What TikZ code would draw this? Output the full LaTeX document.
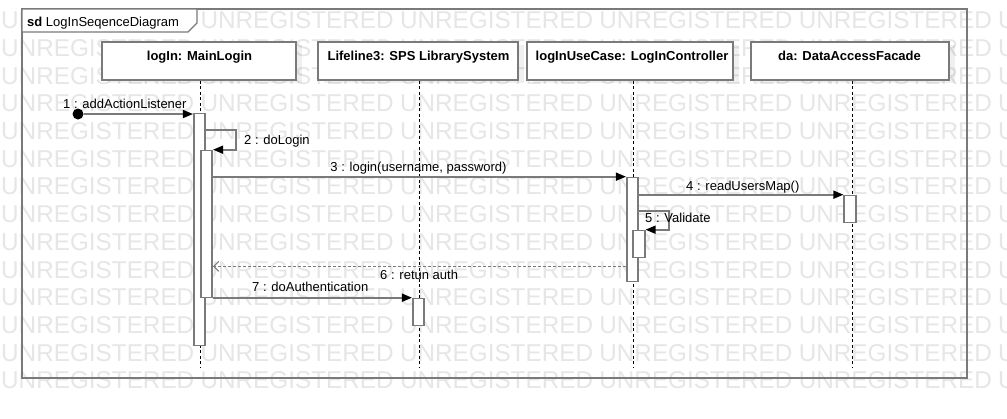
\documentclass[tikz,border=0pt]{standalone}
\usepackage{fontspec}
\setmainfont{Liberation Sans}
\usetikzlibrary{arrows.meta,calc}
\definecolor{lg}{HTML}{7A7A7A}
\definecolor{wmc}{HTML}{E6E6E6}
\begin{document}
\begin{tikzpicture}[x=1pt,y=-1pt,
  font=\fontsize{13}{15}\selectfont,
  wm/.style={anchor=base west, inner sep=0, text=wmc, font=\fontsize{24.3}{26}\selectfont},
  lbox/.style={draw=lg, line width=1.6pt, fill=white, inner sep=0, minimum height=38pt},
  shad/.style={fill=black, fill opacity=0.06, draw=none, inner sep=0, minimum height=38pt},
  ttl/.style={anchor=base, inner sep=0, font=\fontsize{13}{15}\selectfont\bfseries},
  life/.style={draw=black, line width=0.9pt, dash pattern=on 3pt off 2.5pt},
  bar/.style={draw=lg, line width=1.6pt, fill=white, inner sep=0, minimum width=11.5pt},
  msg/.style={draw=lg, line width=1.6pt, -{Triangle[length=10pt,width=8pt,fill=black,color=black]}},
  ret/.style={draw=lg, line width=1pt, dash pattern=on 3pt off 2pt, -{Straight Barb[length=5pt,width=10pt]}},
  lab/.style={anchor=base west, inner sep=0},
]
\useasboundingbox (0,0) rectangle (1007,418);
\fill[white] (0,0) rectangle (1007,418);
% watermark
\foreach \k in {0,...,13}{
  \foreach \j in {0,...,5}{
    \node[wm] (wm\k-\j) at ({1+199.4*\j},{28.7+27.7*\k}) {UNREGISTERED};
  }
}
% frame
\draw[lg, line width=1.6pt] (22,9) rectangle (967,378);
\draw[lg, line width=1.2pt, fill=white] (22,9) -- (197,9) -- (197,23) -- (188,32) -- (22,32) -- cycle;
\node[lab] (title) at (27,26) {\textbf{sd} LogInSeqenceDiagram};
% shadows
\node[shad, minimum width=194pt] (mlsh) at (205,64) {};
\node[shad, minimum width=200pt] (lssh) at (424,64) {};
\node[shad, minimum width=206pt] (lcsh) at (636,64) {};
\node[shad, minimum width=198pt] (ldsh) at (856,64) {};
% lifeline heads
\node[lbox, minimum width=194pt] (ml) at (199,61) {};
\node[lbox, minimum width=200pt] (ls) at (418,61) {};
\node[lbox, minimum width=206pt] (lc) at (630,61) {};
\node[lbox, minimum width=198pt] (ld) at (850,61) {};
\node[ttl] (mlt) at (199.5,60) {logIn: MainLogin};
\node[ttl] (lst) at (418.5,60) {Lifeline3: SPS LibrarySystem};
\node[ttl] (lct) at (632,60) {logInUseCase: LogInController};
\node[ttl] (ldt) at (849.5,60) {da: DataAccessFacade};
% lifelines
\coordinate (mlend) at (200,367);
\coordinate (lsend) at (419,367);
\coordinate (lcend) at (633,367);
\coordinate (ldend) at (852,367);
\draw[life] (ml.south -| mlend) -- (mlend);
\draw[life] (ls.south -| lsend) -- (lsend);
\draw[life] (lc.south -| lcend) -- (lcend);
\draw[life] (ld.south -| ldend) -- (ldend);
% activation bars
\node[bar, minimum height=232pt] (b1) at (199.5,229.5) {};
\node[bar, minimum height=147pt] (b2) at (206.5,224) {};
\node[bar, minimum height=104pt] (c1) at (632.5,229.5) {};
\node[bar, minimum height=27pt] (c2) at (639,244) {};
\node[bar, minimum height=27pt] (d1) at (850,209) {};
\node[bar, minimum height=27pt] (s1) at (418.5,312) {};
% messages
\node[circle, fill=black, inner sep=0, minimum size=11pt] (st) at (78,114) {};
\draw[msg] (st) -- (st -| b1.west);
\draw[msg] ($(b1.north east)+(0,17)$) -- ++(30,0) |- (b2.north east);
\draw[msg] (c1.north west -| b2.east) -- (c1.north west);
\draw[msg] (d1.north west -| c1.east) -- (d1.north west);
\draw[msg] ($(c1.north east)+(0,34)$) -- ++(30,0) |- (c2.north east);
\coordinate (r6) at ($(c1.south west)+(0,-16)$);
\draw[ret] (r6) -- (r6 -| b2.east);
\draw[msg] (s1.north west -| b2.east) -- (s1.north west);
% labels
\node[lab] (l1) at (63,108) {1 : addActionListener};
\node[lab] (l2) at (244,144) {2 : doLogin};
\node[anchor=base, inner sep=0] (l3) at (418.5,171.5) {3 : login(username, password)};
\node[lab] (l4) at (686,190) {4 : readUsersMap()};
\node[lab] (l5) at (645,222.5) {5 : Validate};
\node[lab] (l6) at (380,279) {6 : retun auth};
\node[lab] (l7) at (252,291.5) {7 : doAuthentication};
\end{tikzpicture}
\end{document}
